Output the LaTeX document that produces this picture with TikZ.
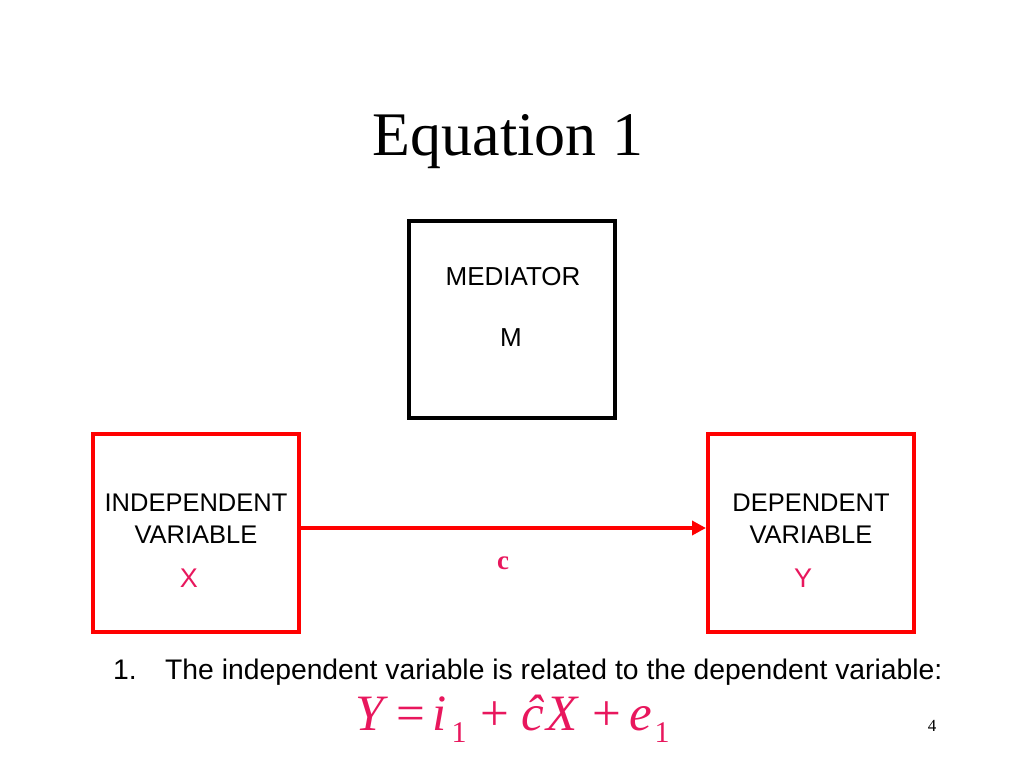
\documentclass[tikz,border=0pt]{standalone}
\usepackage{fontspec}
\setmainfont{Liberation Serif}
\setsansfont{Liberation Sans}
\usetikzlibrary{arrows.meta}
\definecolor{pinkred}{HTML}{E8175D}
\definecolor{boxred}{HTML}{FF0000}
\tikzset{
  redbox/.style={draw=boxred, line width=4pt, minimum width=206pt, minimum height=198pt, inner sep=0pt},
  blackbox/.style={draw=black, line width=4pt, minimum width=206pt, minimum height=197pt, inner sep=0pt},
  lbl/.style={font=\sffamily\fontsize{25.5}{32}\selectfont, align=center, inner sep=0pt},
  var/.style={font=\sffamily\fontsize{27}{27}\selectfont, text=pinkred, inner sep=0pt},
  eqit/.style={font=\itshape\fontsize{51}{51}\selectfont, text=pinkred, anchor=base, inner sep=0pt},
  eqop/.style={font=\fontsize{51}{51}\selectfont, text=pinkred, anchor=base, inner sep=0pt},
  eqsb/.style={font=\fontsize{30}{30}\selectfont, text=pinkred, anchor=base, inner sep=0pt},
}
\begin{document}
\begin{tikzpicture}[x=1pt,y=-1pt]
\useasboundingbox (0,0) rectangle (1024,768);
\node[font=\fontsize{62}{62}\selectfont, inner sep=0pt, anchor=base] (title) at (508,155) {Equation 1};
\node[blackbox] (med) at (512,319.5) {};
\node[font=\sffamily\fontsize{26}{26}\selectfont, inner sep=0pt] (medl) at (513,277) {MEDIATOR};
\node[font=\sffamily\fontsize{26}{26}\selectfont, inner sep=0pt] (medm) at (511,338) {M};
\node[redbox] (iv) at (196,533) {};
\node[redbox] (dv) at (811,533) {};
\node[lbl] (ivl) at (196,519) {INDEPENDENT\\VARIABLE};
\node[lbl] (dvl) at (811,519) {DEPENDENT\\VARIABLE};
\node[var] (x) at (189,578) {X};
\node[var] (y) at (803,578) {Y};
\draw[boxred, line width=4pt, -{Triangle[length=14pt,width=14pt]}] (iv.east |- 0,528) -- (dv.west |- 0,528);
\node[font=\bfseries\fontsize{27}{27}\selectfont, text=pinkred, inner sep=0pt] (c) at (503,563) {c};
\node[font=\sffamily\fontsize{28.3}{28.3}\selectfont, anchor=base west, inner sep=0pt] (num) at (113,679) {1.};
\node[font=\sffamily\fontsize{28.3}{28.3}\selectfont, anchor=base west, inner sep=0pt] (stmt) at (165,679) {The independent variable is related to the dependent variable:};
\node[eqit] (eqY) at (370,730) {Y};
\node[eqop] (eqeq) at (411,730) {=};
\node[eqit] (eqi) at (440,730) {i};
\node[eqsb] (eqi1) at (459,742) {1};
\node[eqop] (eqp1) at (494.5,730) {+};
\node[eqit] (eqc) at (533,730) {ĉ};
\node[eqit] (eqX) at (562,730) {X};
\node[eqop] (eqp2) at (607,730) {+};
\node[eqit] (eqe) at (641,730) {e};
\node[eqsb] (eqe1) at (662,742) {1};
\node[font=\fontsize{17}{17}\selectfont, anchor=base, inner sep=0pt] (pg) at (932,731) {4};
\end{tikzpicture}
\end{document}
